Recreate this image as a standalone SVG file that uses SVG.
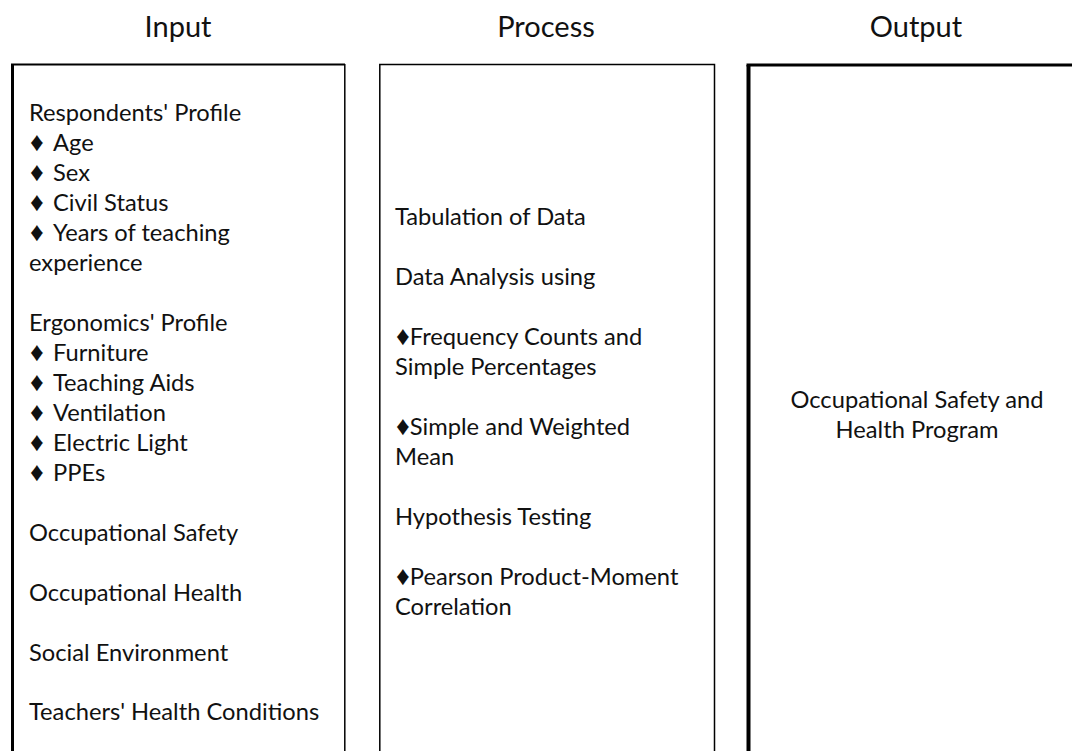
<svg xmlns="http://www.w3.org/2000/svg" width="1072" height="751" viewBox="0 0 1072 751">
  <style>
    text { font-family: Lato, "Open Sans", "Liberation Sans", sans-serif; font-size: 23.7px; fill: #111; }
    .title { font-size: 29px; text-anchor: middle; }
    .mid { text-anchor: middle; }
    .b { font-family: "Liberation Sans", "DejaVu Sans", sans-serif; font-size: 27px; }
    .edge { stroke: #000; fill: none; }
  </style>
  <rect width="1072" height="751" fill="#fff"/>

  <!-- Column headings -->
  <g id="headings">
    <text class="title" x="178" y="37">Input</text>
    <text class="title" x="546" y="37">Process</text>
    <text class="title" x="916" y="37">Output</text>
  </g>

  <!-- Input column -->
  <g id="input" transform="translate(0,1)">
    <path class="edge" stroke-width="3" d="M12.5,750 V63.5"/>
    <path class="edge" stroke-width="2" d="M11,63.5 H345"/>
    <path class="edge" stroke-width="1.5" d="M344.8,63 V750"/>
    <text x="29" y="120">Respondents' Profile</text>
    <text y="150"><tspan class="b" x="30">♦</tspan><tspan x="53">Age</tspan></text>
    <text y="180"><tspan class="b" x="30">♦</tspan><tspan x="53">Sex</tspan></text>
    <text y="210"><tspan class="b" x="30">♦</tspan><tspan x="53">Civil Status</tspan></text>
    <text y="240"><tspan class="b" x="30">♦</tspan><tspan x="53">Years of teaching</tspan></text>
    <text x="29" y="270">experience</text>
    <text x="29" y="330">Ergonomics' Profile</text>
    <text y="360"><tspan class="b" x="30">♦</tspan><tspan x="53">Furniture</tspan></text>
    <text y="390"><tspan class="b" x="30">♦</tspan><tspan x="53">Teaching Aids</tspan></text>
    <text y="420"><tspan class="b" x="30">♦</tspan><tspan x="53">Ventilation</tspan></text>
    <text y="450"><tspan class="b" x="30">♦</tspan><tspan x="53">Electric Light</tspan></text>
    <text y="480"><tspan class="b" x="30">♦</tspan><tspan x="53">PPEs</tspan></text>
    <text x="29" y="540">Occupational Safety</text>
    <text x="29" y="600">Occupational Health</text>
    <text x="29" y="660">Social Environment</text>
    <text x="29" y="719">Teachers' Health Conditions</text>
  </g>

  <!-- Process column; bullet and word share one run -->
  <g id="process" transform="translate(0,1)">
    <path class="edge" stroke-width="1.5" d="M379.8,750 V63.5 H714.5 V750"/>
    <text x="395" y="224">Tabulation of Data</text>
    <text x="395" y="284">Data Analysis using</text>
    <text x="396" y="344"><tspan class="b">♦</tspan><tspan>Frequency Counts and</tspan></text>
    <text x="395" y="374">Simple Percentages</text>
    <text x="396" y="434"><tspan class="b">♦</tspan><tspan>Simple and Weighted</tspan></text>
    <text x="395" y="464">Mean</text>
    <text x="395" y="524">Hypothesis Testing</text>
    <text x="396" y="584"><tspan class="b">♦</tspan><tspan>Pearson Product-Moment</tspan></text>
    <text x="395" y="614">Correlation</text>
  </g>

  <!-- Output column -->
  <g id="output">
    <path class="edge" stroke-width="4" d="M748.5,751 V65"/>
    <path class="edge" stroke-width="3" d="M746.5,65 H1072"/>
    <text class="mid" x="917" y="408">Occupational Safety and</text>
    <text class="mid" x="917" y="438">Health Program</text>
  </g>
</svg>
